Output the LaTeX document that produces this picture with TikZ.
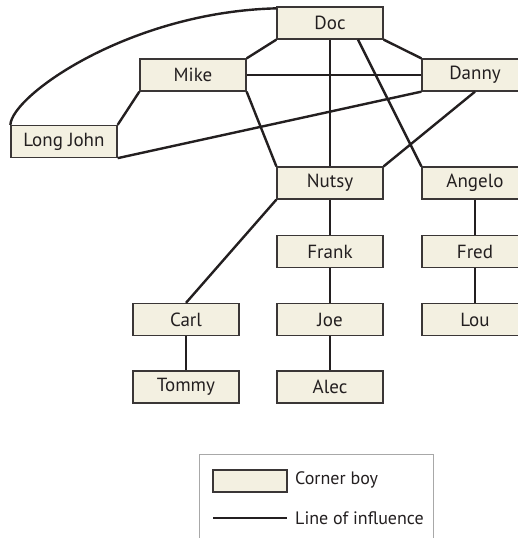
\documentclass[tikz,border=0pt]{standalone}
\usepackage{fontspec}
\setmainfont{PT Sans}
\definecolor{boyfill}{HTML}{F3F0E1}
\definecolor{inkline}{HTML}{231F20}
\definecolor{boxedge}{HTML}{3A3636}
\definecolor{legedge}{HTML}{A8A8A8}
\begin{document}
\begin{tikzpicture}[x=1pt,y=-1pt,
  boy/.style={draw=boxedge,line width=1.3pt,fill=boyfill,minimum width=106pt,minimum height=32pt,inner sep=0pt,font=\fontsize{19}{22}\selectfont,text=inkline},
  infl/.style={draw=inkline,line width=2.4pt},
  legtext/.style={anchor=west,inner sep=0pt,font=\fontsize{18}{21}\selectfont,text=inkline}]
\useasboundingbox (0,0) rectangle (518,538);
\clip (0,0) rectangle (518,538);
\node[boy] (doc) at (330,23) {Doc};
\node[boy] (mike) at (193,75) {Mike};
\node[boy] (danny) at (475,75) {Danny};
\node[boy] (ljohn) at (64,141.5) {Long John};
\node[boy] (nutsy) at (330,183) {Nutsy};
\node[boy] (angelo) at (475,183) {Angelo};
\node[boy] (frank) at (330,251.5) {Frank};
\node[boy] (fred) at (475,251.5) {Fred};
\node[boy] (carl) at (186,319.5) {Carl};
\node[boy] (joe) at (330,319.5) {Joe};
\node[boy] (lou) at (475,319.5) {Lou};
\node[boy] (tommy) at (186,387) {Tommy};
\node[boy] (alec) at (330,387) {Alec};
% lines of influence
\draw[infl] (ljohn.north west) .. controls (12,95) and (130,12) .. ([yshift=-2pt]doc.north west);
\draw[infl] (doc.south west) -- (mike.north east);
\draw[infl] (doc.south east) -- (danny.north west);
\draw[infl] (doc.south) -- (nutsy.north);
\draw[infl] ([xshift=28pt]doc.south) -- (angelo.north west);
\draw[infl] (mike.east) -- (danny.west);
\draw[infl] (mike.south east) -- (nutsy.north west);
\draw[infl] (mike.south west) -- (ljohn.north east);
\draw[infl] (danny.south west) -- (ljohn.south east);
\draw[infl] (danny.south) -- (nutsy.north east);
\draw[infl] (nutsy.south) -- (frank.north);
\draw[infl] (frank.south) -- (joe.north);
\draw[infl] (joe.south) -- (alec.north);
\draw[infl] (nutsy.south west) -- (carl.north);
\draw[infl] (carl.south) -- (tommy.north);
\draw[infl] (angelo.south) -- (fred.north);
\draw[infl] (fred.south) -- (lou.north);
% legend
\draw[legedge,line width=1pt] (199,546) -- (199,454) -- (433,454) -- (433,546);
\node[draw=boxedge,line width=1.3pt,fill=boyfill,minimum width=74pt,minimum height=22pt,inner sep=0pt] (swatch) at (250,481) {};
\node[legtext] (lboy) at (295,480) {Corner boy};
\coordinate (la) at (213,518);
\coordinate (lb) at (287,518);
\draw[infl] (la) -- (lb);
\node[legtext] (lline) at (295,518) {Line of influence};
\end{tikzpicture}
\end{document}
